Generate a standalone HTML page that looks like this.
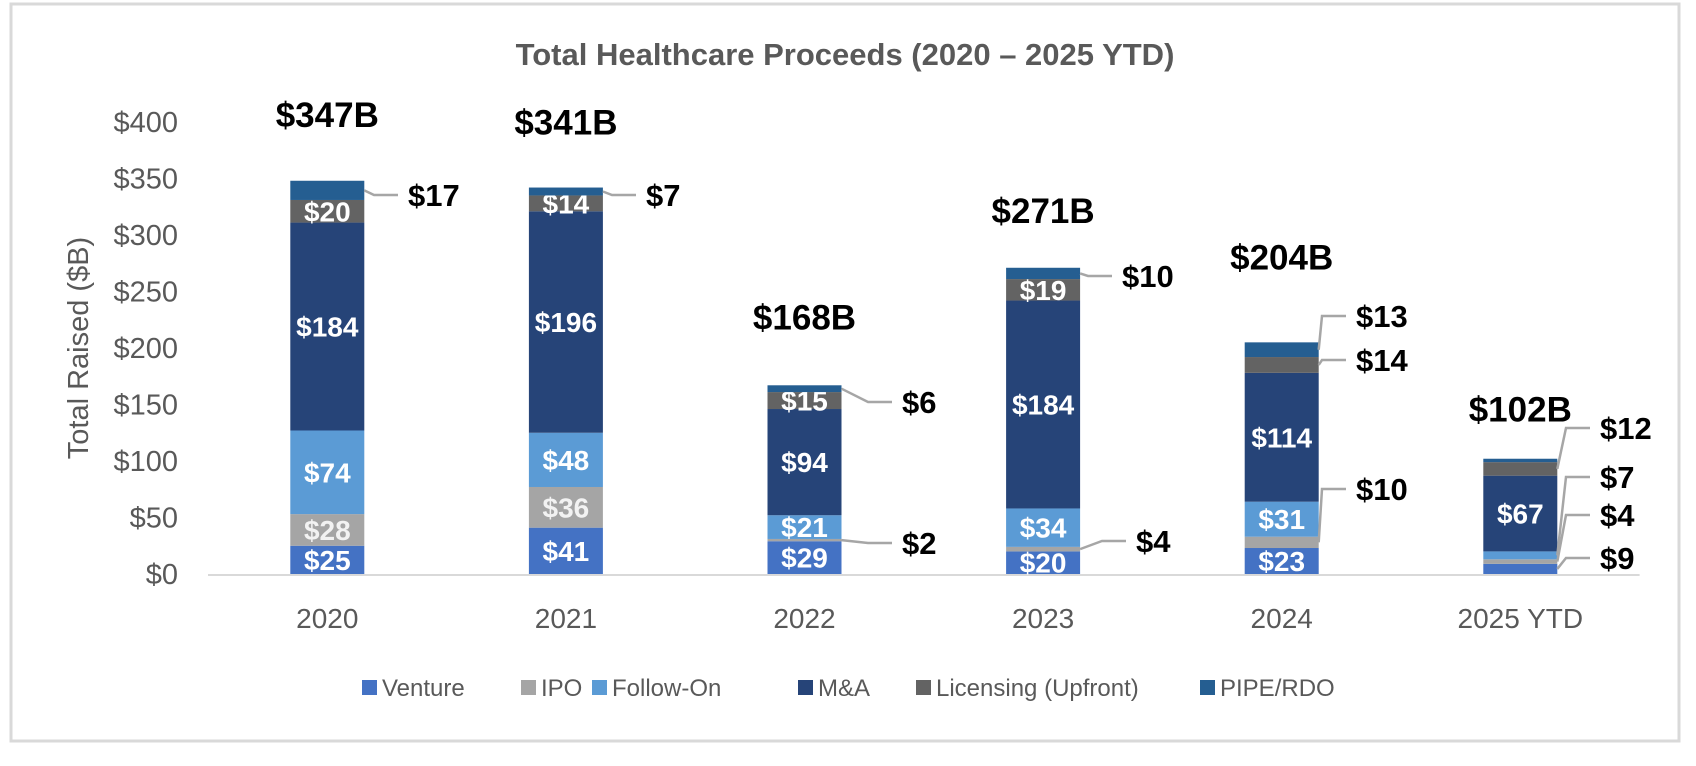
<!DOCTYPE html>
<html><head><meta charset="utf-8"><style>
body{margin:0;background:#fff;width:1696px;height:761px;overflow:hidden;font-family:"Liberation Sans",sans-serif}
</style></head><body>
<svg id="chart" width="1696" height="761" xmlns="http://www.w3.org/2000/svg" font-family="Liberation Sans, sans-serif">
<rect x="11" y="4" width="1668" height="737" fill="#fff" stroke="#d9d9d9" stroke-width="3"/>
<text x="845" y="65" text-anchor="middle" font-size="31" font-weight="bold" fill="#595959">Total Healthcare Proceeds (2020 – 2025 YTD)</text>
<text transform="translate(88,348) rotate(-90)" text-anchor="middle" font-size="29" fill="#595959">Total Raised ($B)</text>
<g id="plot"></g>
</svg>
<script>
const categories=["2020","2021","2022","2023","2024","2025 YTD"];
const seriesNames=["Venture","IPO","Follow-On","M&A","Licensing (Upfront)","PIPE/RDO"];
const venture=[25,41,29,20,23,9];
const ipo=[28,36,2,4,10,4];
const followOn=[74,48,21,34,31,7];
const mna=[184,196,94,184,114,67];
const licensing=[20,14,15,19,14,12];
const pipe=[17,7,6,10,13,3];
const totals=["$347B","$341B","$168B","$271B","$204B","$102B"];
const yTicks=[0,50,100,150,200,250,300,350,400];
const series=[venture,ipo,followOn,mna,licensing,pipe];
const colors=["#4472C4","#A5A5A5","#5B9BD5","#264478","#636363","#255E91"];
// layout: gap between bar top and total label (px)
const totalGap=[67,66,69,58,86,50];
// outside-label layout: [category, series, labelX, labelY]
const outside=[[0,5,408,195],[1,5,646,195],[2,5,902,402],[2,1,902,543],[3,5,1122,276],[3,1,1136,541],[4,5,1356,316],[4,4,1356,360],[4,1,1356,489],[5,4,1600,428],[5,2,1600,477],[5,1,1600,515],[5,0,1600,558]];
const NS="http://www.w3.org/2000/svg";
const g=document.getElementById('plot');
const x0=208,catW=238.6,base=574,scale=452/400,barW=74;
const y=v=>base-v*scale;
const cx=i=>x0+catW*(i+0.5);
function el(t,a,txt){const e=document.createElementNS(NS,t);for(const k in a)e.setAttribute(k,a[k]);if(txt!==undefined)e.textContent=txt;g.appendChild(e);return e;}
yTicks.forEach(t=>{
 const e=el('text',{x:178,y:y(t)+10,'text-anchor':'end','font-size':29,fill:'#595959'},'$'+t);
 
 
});
const ax=el('line',{x1:x0,x2:x0+catW*6,y1:base+1,y2:base+1,stroke:'#d9d9d9','stroke-width':2});


categories.forEach((c,i)=>{
 let acc=0;const left=cx(i)-barW/2;
 series.forEach((s,k)=>{
  const v=s[i];
  const r=el('rect',{x:left,y:y(acc+v),width:barW,height:v*scale,fill:colors[k]});
  
  
  const isOut=outside.some(o=>o[0]===i&&o[1]===k);
  if(!isOut&&v>=14){
   const t=el('text',{x:cx(i),y:y(acc+v/2)+10,'text-anchor':'middle','font-size':28,'font-weight':'bold',fill:k===1?'#f2f2f2':'#fff'},'$'+v);
   
   
  }
  acc+=v;
 });
 const tot=series.reduce((a,s)=>a+s[i],0);
 const tl=el('text',{x:cx(i),y:y(tot)-totalGap[i]+13,'text-anchor':'middle','font-size':35,'font-weight':'bold',fill:'#000'},totals[i]);
 
 
 const cl=el('text',{x:cx(i),y:628,'text-anchor':'middle','font-size':28,fill:'#595959'},c);
 
 
});
outside.forEach(o=>{
 const [i,k,lx,ly]=o;
 let acc=0;for(let j=0;j<k;j++)acc+=series[j][i];
 const mid=y(acc+series[k][i]/2);const right=cx(i)+barW/2;
 const p=el('polyline',{points:`${right},${mid} ${lx-34},${ly} ${lx-10},${ly}`,fill:'none',stroke:'#a6a6a6','stroke-width':2.5});
 
 
 const t=el('text',{x:lx,y:ly+11,'font-size':31,'font-weight':'bold',fill:'#000'},'$'+series[k][i]);
 
 
});
const legX=[362,521,592,798,916,1200];
seriesNames.forEach((n,k)=>{
 const s=el('rect',{x:legX[k],y:680,width:15,height:15,fill:colors[k]});
 
 
 const t=el('text',{x:legX[k]+20,y:696,'font-size':24,fill:'#595959'},n);
 
 
});
</script>
</body></html>
